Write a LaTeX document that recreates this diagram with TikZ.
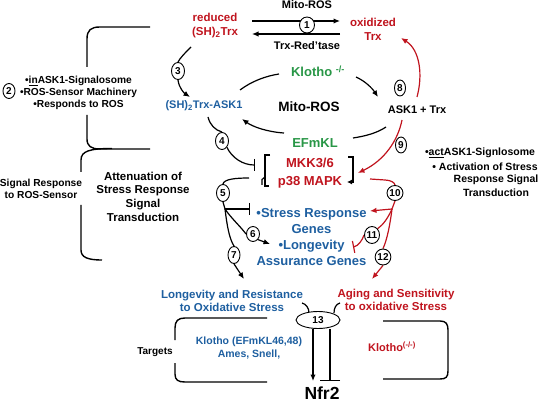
\documentclass[tikz,border=0pt]{standalone}
\usepackage{fontspec}
\setmainfont{Liberation Sans}
\usetikzlibrary{arrows.meta,shapes.geometric}
\definecolor{dred}{RGB}{192,20,30}
\definecolor{dblue}{RGB}{30,95,160}
\definecolor{dgreen}{RGB}{40,150,70}
\newcommand\fs[2]{\fontsize{#1}{#2}\selectfont\bfseries}
\pgfdeclarelayer{bg}\pgfsetlayers{bg,main}
\begin{document}
\begin{tikzpicture}[x=1pt,y=-1pt,
 txt/.style={inner sep=0pt, align=center},
 num/.style={ellipse, draw, fill=white, line width=0.9pt, inner sep=0pt, minimum width=13pt, minimum height=17pt, font=\fs{10}{11}},
 con/.style={line width=1.2pt},
 arr/.style={con, -{Latex[length=6.5pt,width=5.5pt]}},
 tee/.style={con, -{Bar[width=12pt]}},
 brk/.style={line width=1.4pt},
]
\useasboundingbox (0,0) rectangle (543,403);
% ---------- top
\node[txt,font=\fs{11}{13}] (mitotop) at (307,5) {Mito-ROS};
\node[txt,font=\fs{11.5}{14},text=dred] (reduced) at (215,26) {reduced\\(SH)\textsubscript{2}Trx};
\node[txt,font=\fs{11.5}{14},text=dred] (oxid) at (373,29) {oxidized\\Trx};
\node[num,minimum width=15pt,minimum height=16pt] (n1) at (307,25) {1};
\node[txt,font=\fs{11}{13}] (redtase) at (307,46) {Trx-Red’tase};
% ---------- left
\node[num,minimum width=12pt,minimum height=15pt] (n2) at (9,91) {2};
\node[txt,font=\fs{10.2}{12}] (inask) at (78.5,93) {•\underline{in}ASK1-Signalosome\\•ROS-Sensor Machinery\\•Responds to ROS};
\node[txt,font=\fs{10.2}{12}] (sigresp) at (41,189) {Signal Response\\to ROS-Sensor};
\node[txt,font=\fs{11.5}{13.7}] (atten) at (143,196.5) {Attenuation of\\Stress Response\\Signal\\Transduction};
% ---------- centre cycle
\node[txt,font=\fs{11}{13},text=dblue] (trxask) at (204,106) {(SH)\textsubscript{2}Trx-ASK1};
\node[txt,font=\fs{13}{15},text=dgreen] (klotho) at (318,71) {Klotho \textsuperscript{-/-}};
\node[txt,font=\fs{13.5}{16}] (mitoc) at (309,107) {Mito-ROS};
\node[txt,font=\fs{13}{15},text=dgreen] (efmkl) at (315,143) {EFmKL};
\node[txt,font=\fs{11}{13}] (asktrx) at (417,110) {ASK1 + Trx};
\node[txt,font=\fs{13}{18},text=dred] (mkk) at (310,173) {MKK3/6\\p38 MAPK};
\node[num] (n3) at (178,71) {3};
\node[num] (n4) at (222,141) {4};
\node[num] (n5) at (223,193) {5};
\node[num,minimum height=15pt] (n6) at (253,234) {6};
\node[num,minimum width=12pt] (n7) at (234,255) {7};
\node[num,minimum width=11pt,minimum height=16pt] (n8) at (400,88) {8};
\node[num,minimum width=11pt,minimum height=16pt] (n9) at (401,145) {9};
\node[num,minimum width=16pt,minimum height=15pt] (n10) at (395,193) {10};
\node[num,minimum width=15pt,minimum height=17pt] (n11) at (372,235) {11};
\node[num,minimum width=15pt,minimum height=16pt] (n12) at (383,257) {12};
% ---------- right text
\node[txt,font=\fs{10.5}{13}] (act1) at (480,153) {•\underline{act}ASK1-Signlosome};
\node[txt,font=\fs{10.5}{13}] (act2) at (485,167) {• Activation of Stress};
\node[txt,font=\fs{10.5}{13}] (act3) at (496,180) {Response Signal};
\node[txt,font=\fs{10.5}{13}] (act4) at (496,193) {Transduction};
% ---------- genes
\node[txt,font=\fs{13}{16.3},text=dblue] (genes) at (311.5,237) {•Stress Response\\Genes\\•Longevity\\Assurance Genes};
% ---------- bottom
\node[txt,font=\fs{11.5}{13},text=dblue] (longev) at (232,300.5) {Longevity and Resistance\\to Oxidative Stress};
\node[txt,font=\fs{11.5}{13},text=dred] (aging) at (396,299.5) {Aging and Sensitivity\\to oxidative Stress};
\node[num,minimum width=44pt,minimum height=17pt] (n13) at (318,320) {13};
\node[txt,font=\fs{10}{12}] (targets) at (155,352) {Targets};
\node[txt,font=\fs{10.5}{12.5},text=dblue] (ktargets) at (249,348) {Klotho (EFmKL46,48)\\Ames, Snell,};
\node[txt,font=\fs{11}{13},text=dred] (klotred) at (392,347) {Klotho\textsuperscript{(-/-)}};
\node[txt,font=\fs{17.5}{20}] (nfr2) at (322,393) {Nfr2};
% ---------- connectors
\begin{pgfonlayer}{bg}
\coordinate (t1a) at (252,21); \coordinate (t1b) at (340,21);
\coordinate (t2a) at (340,34); \coordinate (t2b) at (252,34);
\draw[arr] (t1a) -- (t1b);
\draw[arr] (t2a) -- (t2b);
% left brackets
\draw[brk] (150,27) -- (100,27) .. controls (91,27) and (87,30) .. (87,39) -- (87,67);
\draw[brk] (87,115) -- (87,139) .. controls (87,146) and (91,149) .. (100,149) -- (150,149);
\draw[brk] (112,148.5) .. controls (90,148.5) and (81,151) .. (81,160) -- (81,172);
\draw[brk] (81,205) -- (81,250) .. controls (81,257) and (87,260) .. (102,260);
% arrow 3
\coordinate (a3s) at (191,47); \coordinate (a3e) at (190,97);
\draw[con] (a3s) .. controls (185,53) and (180,58) .. (n3.north);
\draw[arr] (n3.south) .. controls (179,88) and (184,93) .. (a3e);
% arrow 4
\coordinate (a4s) at (208,117); \coordinate (a4e) at (255,165);
\draw[con] (a4s) .. controls (210,125) and (215,130) .. (n4.north);
\draw[tee] (n4.south east) .. controls (232,158) and (243,165) .. (a4e);
% MKK brackets
\draw[brk] (270,155) -- (265,155) -- (265,186) -- (269,186);
\draw[con] (265,177) -- (262,179.5) -- (262,185);
\draw[brk,-{Latex[length=5pt,width=5pt]}] (348,157) -- (353,157) -- (353,182) -- (347,182);
% cycle
\coordinate (c1) at (240,90); \coordinate (c2) at (279,74);
\coordinate (c3) at (356,77); \coordinate (c4) at (378,97);
\coordinate (c5) at (386,127); \coordinate (c6) at (353,138);
\coordinate (c7) at (284,133); \coordinate (c8) at (242,119);
\draw[con] (c1) .. controls (252,81) and (266,76) .. (c2);
\draw[arr] (c3) .. controls (365,81) and (372,88) .. (c4);
\draw[con] (c5) .. controls (377,133) and (366,136) .. (c6);
\draw[arr] (c7) .. controls (268,132) and (253,127) .. (c8);
% arrow 5, 6, 7
\coordinate (a5s) at (249,178); \coordinate (b5) at (225,209); \coordinate (a5t) at (250,209);
\draw[con] (a5s) .. controls (236,178) and (224,179) .. (n5.north);
\draw[con] (n5.south) -- (b5);
\draw[tee] (b5) -- (a5t);
\coordinate (a6e) at (270,244);
\draw[con] (b5) .. controls (231,218) and (240,226) .. (n6.west);
\draw[arr] (n6.south east) -- (a6e);
\coordinate (a7e) at (244,279);
\draw[con] (b5) .. controls (227,225) and (229,238) .. (n7.north);
\draw[arr] (n7.south) -- (a7e);
% red 8, 9
\coordinate (r8s) at (417,97); \coordinate (r8e) at (401,38);
\draw[arr,dred] (r8s) .. controls (423,75) and (420,50) .. (r8e);
\coordinate (r9s) at (402,120); \coordinate (r9e) at (358,173);
\draw[arr,dred] (r9s) .. controls (398,140) and (385,160) .. (r9e);
% red 10, 11, 12
\coordinate (a10s) at (370,179); \coordinate (b10) at (392,209);
\coordinate (a10e) at (370,211); \coordinate (a11e) at (353,247); \coordinate (a12e) at (372,279);
\draw[con,dred] (a10s) -- (385,180) .. controls (391,180) and (395,183) .. (n10.north);
\draw[con,dred] (n10.south) -- (b10);
\draw[arr,dred] (b10) -- (a10e);
\draw[con,dred] (b10) .. controls (388,218) and (383,225) .. (n11.north east);
\draw[tee,dred] (n11.west) .. controls (362,241) and (358,246) .. (a11e);
\draw[con,dred] (b10) .. controls (390,225) and (387,240) .. (n12.north);
\draw[arr,dred] (n12.south) -- (a12e);
% 13
\coordinate (h1) at (302,303); \coordinate (h2) at (340,303);
\draw[con] (h1) .. controls (306,304) and (309,308) .. (309,313);
\draw[con] (h2) .. controls (336,304) and (334,308) .. (334,313);
\coordinate (nfa) at (313,381); \coordinate (nfb) at (330,381);
\draw[arr] (n13.south -| nfa) -- (nfa);
\draw[con,-{Bar[width=20pt]}] (n13.south -| nfb) -- (nfb);
% bottom brackets
\draw[brk] (267,318) -- (185,318) .. controls (178,318) and (175,321) .. (175,328) -- (175,340);
\draw[brk] (175,363) -- (175,374) .. controls (175,380) and (178,382) .. (185,382) -- (267,382);
\draw[brk] (383,321) -- (440,321) .. controls (446,321) and (448,324) .. (448,330) -- (448,371) .. controls (448,377) and (446,379) .. (440,379) -- (383,379);
\end{pgfonlayer}
\end{tikzpicture}
\end{document}
